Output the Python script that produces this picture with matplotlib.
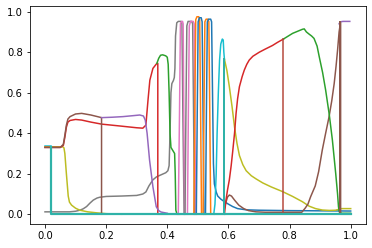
import matplotlib
matplotlib.use("Agg")
import matplotlib.pyplot as plt

# ---- data ----
cyan0_x = [0.0, 0.02]
cyan0_y = [0.337, 0.337]

teal0_x = [0.02, 0.02, 1.0]
teal0_y = [0.333, 0.0, 0.0]

gray_a_x = [0.0, 0.08, 0.1, 0.114, 0.125, 0.136, 0.147, 0.158, 0.17, 0.179, 0.2, 0.25, 0.3, 0.32,
            0.33, 0.34, 0.353, 0.365, 0.38, 0.395, 0.402, 0.406, 0.409, 0.412, 0.415, 0.42, 0.423,
            0.425, 0.427, 0.431, 0.436, 0.445, 0.448, 0.451, 0.455]
gray_a_y = [0.012, 0.012, 0.015, 0.02, 0.027, 0.038, 0.055, 0.07, 0.08, 0.084, 0.088, 0.09, 0.093, 0.1,
            0.11, 0.14, 0.17, 0.185, 0.195, 0.205, 0.215, 0.24, 0.4, 0.6, 0.645, 0.66, 0.675,
            0.72, 0.88, 0.945, 0.952, 0.952, 0.94, 0.5, 0.0]

olive_a_x = [0.0, 0.058, 0.062, 0.065, 0.07, 0.076, 0.08, 0.087, 0.1, 0.114, 0.14, 0.17, 0.2, 0.25]
olive_a_y = [0.333, 0.333, 0.328, 0.30, 0.2, 0.09, 0.06, 0.045, 0.03, 0.02, 0.012, 0.007, 0.003, 0.0]

red_a_x = [0.0, 0.05, 0.06, 0.065, 0.07, 0.075, 0.082, 0.1, 0.12, 0.15, 0.185, 0.25, 0.3, 0.32,
           0.33, 0.337, 0.343, 0.353, 0.366, 0.369, 0.369, 0.587]
red_a_y = [0.33, 0.33, 0.34, 0.38, 0.43, 0.455, 0.463, 0.468, 0.465, 0.455, 0.445, 0.435, 0.427, 0.425,
           0.44, 0.564, 0.662, 0.72, 0.745, 0.745, 0.0, 0.0]

brown_a_x = [0.0, 0.05, 0.06, 0.065, 0.07, 0.075, 0.082, 0.1, 0.12, 0.15, 0.185, 0.185]
brown_a_y = [0.33, 0.33, 0.345, 0.39, 0.44, 0.47, 0.482, 0.495, 0.498, 0.49, 0.477, 0.0]

purple_a_x = [0.185, 0.22, 0.255, 0.29, 0.31, 0.322, 0.328, 0.334, 0.342, 0.353, 0.364, 0.372, 0.38, 0.4]
purple_a_y = [0.477, 0.479, 0.482, 0.487, 0.49, 0.485, 0.465, 0.40, 0.268, 0.136, 0.037, 0.018, 0.011, 0.005]

green_a_x = [0.366, 0.372, 0.378, 0.385, 0.395, 0.4, 0.403, 0.406, 0.409, 0.412, 0.418, 0.424,
             0.426, 0.428, 0.432, 0.44]
green_a_y = [0.745, 0.77, 0.785, 0.787, 0.782, 0.775, 0.74, 0.6, 0.4, 0.33, 0.315, 0.3,
             0.2, 0.02, 0.0, 0.0]

pink_a_x = [0.436, 0.44, 0.443, 0.447, 0.45, 0.452, 0.454, 0.457]
pink_a_y = [0.0, 0.5, 0.94, 0.952, 0.952, 0.94, 0.5, 0.0]

gray_b_x = [0.458, 0.461, 0.464, 0.468, 0.48, 0.483, 0.486, 0.489]
gray_b_y = [0.0, 0.5, 0.93, 0.952, 0.952, 0.94, 0.5, 0.0]

pink_b_x = [0.466, 0.469, 0.472, 0.476, 0.485, 0.488, 0.49, 0.493]
pink_b_y = [0.0, 0.5, 0.93, 0.952, 0.952, 0.94, 0.5, 0.0]

orange_a_x = [0.487, 0.49, 0.493, 0.497, 0.503, 0.506, 0.509, 0.512]
orange_a_y = [0.0, 0.5, 0.96, 0.975, 0.975, 0.96, 0.5, 0.0]

blue_a_x = [0.495, 0.498, 0.501, 0.505, 0.511, 0.514, 0.517, 0.52]
blue_a_y = [0.0, 0.5, 0.95, 0.97, 0.97, 0.95, 0.5, 0.0]

orange_b_x = [0.517, 0.52, 0.523, 0.527, 0.533, 0.536, 0.539, 0.542]
orange_b_y = [0.0, 0.5, 0.95, 0.963, 0.963, 0.95, 0.5, 0.0]

blue_b_x = [0.525, 0.528, 0.531, 0.535, 0.542, 0.545, 0.548, 0.551, 0.554, 0.56, 0.565, 0.575,
            0.587, 0.6, 0.614, 0.63, 0.658, 0.7, 0.8, 0.9, 1.0]
blue_b_y = [0.0, 0.5, 0.95, 0.963, 0.963, 0.95, 0.6, 0.25, 0.15, 0.11, 0.09, 0.075,
            0.062, 0.05, 0.038, 0.028, 0.022, 0.02, 0.018, 0.017, 0.016]

cyan_b_x = [0.552, 0.556, 0.56, 0.563, 0.567, 0.571, 0.575, 0.58, 0.583, 0.585, 0.587]
cyan_b_y = [0.0, 0.05, 0.2, 0.4, 0.6, 0.76, 0.84, 0.865, 0.86, 0.80, 0.765]

teal_b_x = [0.587, 0.587]
teal_b_y = [0.765, 0.0]

olive_b_x = [0.587, 0.595, 0.603, 0.612, 0.62, 0.628, 0.636, 0.647, 0.658, 0.675, 0.69, 0.712,
             0.74, 0.777, 0.81, 0.842, 0.864, 0.885, 0.907, 0.93, 0.95, 0.962, 0.97, 1.0]
olive_b_y = [0.765, 0.71, 0.63, 0.53, 0.43, 0.35, 0.29, 0.245, 0.215, 0.19, 0.175, 0.155,
             0.135, 0.112, 0.088, 0.062, 0.04, 0.028, 0.021, 0.019, 0.02, 0.025, 0.028, 0.028]

brown_c_x = [0.587, 0.592, 0.597, 0.603, 0.61, 0.62, 0.634, 0.65, 0.666, 0.69, 0.72, 0.84,
             0.851, 0.86, 0.869, 0.884, 0.895, 0.907, 0.918, 0.929, 0.938, 0.946, 0.952,
             0.957, 0.962, 0.967, 0.967, 1.0]
brown_c_y = [0.03, 0.06, 0.085, 0.095, 0.09, 0.07, 0.045, 0.028, 0.018, 0.012, 0.01, 0.01,
             0.03, 0.05, 0.087, 0.14, 0.21, 0.317, 0.4, 0.48, 0.56, 0.646, 0.73,
             0.81, 0.9, 0.95, 0.0, 0.0]

red_b_x = [0.587, 0.592, 0.597, 0.603, 0.609, 0.614, 0.62, 0.625, 0.63, 0.636, 0.645, 0.652,
           0.66, 0.668, 0.68, 0.701, 0.72, 0.744, 0.76, 0.78]
red_b_y = [0.0, 0.07, 0.12, 0.17, 0.24, 0.31, 0.4, 0.498, 0.57, 0.63, 0.68, 0.712,
           0.74, 0.761, 0.78, 0.80, 0.815, 0.833, 0.848, 0.865]

darkred_x = [0.78, 0.78]
darkred_y = [0.865, 0.0]

green_b_x = [0.78, 0.81, 0.842, 0.848, 0.855, 0.864, 0.872, 0.88, 0.89, 0.897, 0.908, 0.918,
             0.93, 0.94, 0.951, 0.957, 0.96, 0.963, 0.97, 1.0]
green_b_y = [0.865, 0.893, 0.913, 0.915, 0.9, 0.889, 0.88, 0.868, 0.83, 0.778, 0.7, 0.613,
             0.49, 0.367, 0.2, 0.1, 0.037, 0.01, 0.005, 0.005]

purple_b_x = [0.962, 0.966, 0.975, 0.997]
purple_b_y = [0.94, 0.95, 0.952, 0.952]

brownv_x = [0.966, 0.966]
brownv_y = [0.95, 0.0]

# ---- plotting ----
fig = plt.figure(figsize=(372 / 72, 248 / 72), dpi=72)
ax = fig.add_axes([29.7 / 372, 24 / 248, (366 - 29.7) / 372, (224 - 6) / 248])

C = {"blue": "#1f77b4", "orange": "#ff7f0e", "green": "#2ca02c", "red": "#d62728",
     "purple": "#9467bd", "brown": "#8c564b", "pink": "#e377c2", "gray": "#7f7f7f",
     "olive": "#bcbd22", "cyan": "#17becf", "teal": "#2fb2a8", "darkred": "#b5473a"}

lw = 1.5
ax.plot(gray_a_x, gray_a_y, color=C["gray"], lw=lw)
ax.plot(cyan0_x, cyan0_y, color=C["cyan"], lw=lw)
ax.plot(olive_a_x, olive_a_y, color=C["olive"], lw=lw)
ax.plot(red_a_x, red_a_y, color=C["red"], lw=lw)
ax.plot(brown_a_x, brown_a_y, color=C["brown"], lw=lw)
ax.plot(purple_a_x, purple_a_y, color=C["purple"], lw=lw)
ax.plot(green_a_x, green_a_y, color=C["green"], lw=lw)
ax.plot(pink_a_x, pink_a_y, color=C["pink"], lw=lw)
ax.plot(gray_b_x, gray_b_y, color=C["gray"], lw=lw)
ax.plot(pink_b_x, pink_b_y, color=C["pink"], lw=lw)
ax.plot(orange_a_x, orange_a_y, color=C["orange"], lw=lw)
ax.plot(blue_a_x, blue_a_y, color=C["blue"], lw=lw)
ax.plot(orange_b_x, orange_b_y, color=C["orange"], lw=lw)
ax.plot(blue_b_x, blue_b_y, color=C["blue"], lw=lw)
ax.plot(cyan_b_x, cyan_b_y, color=C["cyan"], lw=lw)
ax.plot(olive_b_x, olive_b_y, color=C["olive"], lw=lw)
ax.plot(brown_c_x, brown_c_y, color=C["brown"], lw=lw)
ax.plot(red_b_x, red_b_y, color=C["red"], lw=lw)
ax.plot(green_b_x, green_b_y, color=C["green"], lw=lw)
ax.plot(purple_b_x, purple_b_y, color=C["purple"], lw=lw)
ax.plot(darkred_x, darkred_y, color=C["darkred"], lw=lw)
ax.plot(brownv_x, brownv_y, color=C["brown"], lw=2.0)
ax.plot(teal_b_x, teal_b_y, color=C["teal"], lw=2.0)
ax.plot(teal0_x, teal0_y, color=C["teal"], lw=2.2)

ax.set_xlim(-0.05, 1.05)
ax.set_ylim(-0.048, 1.028)
ax.set_xticks([0.0, 0.2, 0.4, 0.6, 0.8, 1.0])
ax.set_yticks([0.0, 0.2, 0.4, 0.6, 0.8, 1.0])
ax.tick_params(labelsize=10)

fig.savefig("out.png", dpi=72)
